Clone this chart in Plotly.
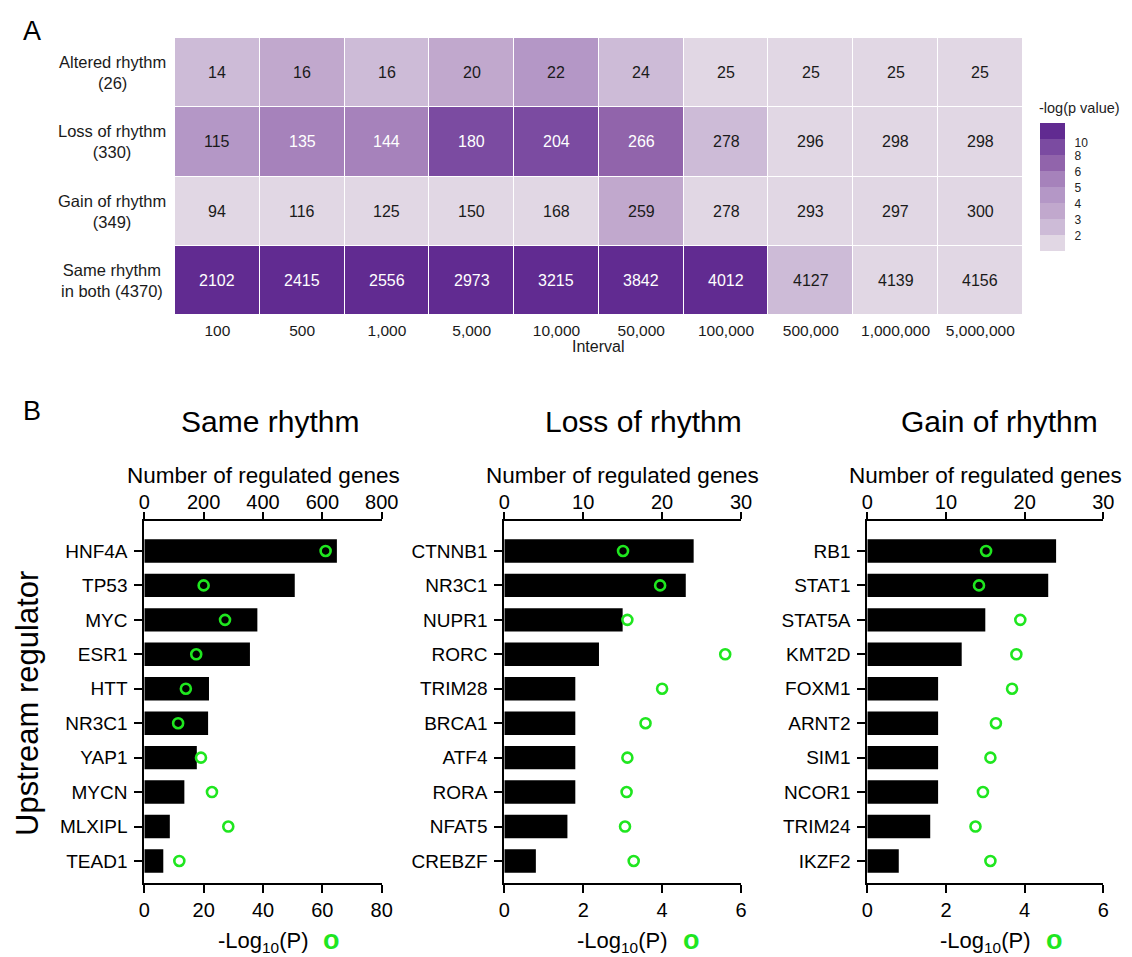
import numpy as np
import plotly.graph_objects as go

W, H = 1132, 957

# ---------------- Panel A data ----------------
intervals = ["100", "500", "1,000", "5,000", "10,000", "50,000", "100,000",
             "500,000", "1,000,000", "5,000,000"]
row_keys = ["Altered", "Loss", "Gain", "Same"]
row_labels = ["Altered rhythm<br>(26)", "Loss of rhythm<br>(330)",
              "Gain of rhythm<br>(349)", "Same rhythm<br>in both (4370)"]
counts_altered = [14, 16, 16, 20, 22, 24, 25, 25, 25, 25]
counts_loss = [115, 135, 144, 180, 204, 266, 278, 296, 298, 298]
counts_gain = [94, 116, 125, 150, 168, 259, 278, 293, 297, 300]
counts_same = [2102, 2415, 2556, 2973, 3215, 3842, 4012, 4127, 4139, 4156]
# estimated -log(p value) per cell (read from colour bins)
neglogp_altered = [2.5, 3.5, 2.5, 3.5, 4.5, 2.5, 1.5, 1.5, 1.5, 1.5]
neglogp_loss = [4.5, 5.5, 5.5, 9.0, 9.0, 7.0, 2.5, 1.5, 1.5, 1.5]
neglogp_gain = [1.5, 1.5, 1.5, 1.5, 1.5, 3.5, 1.5, 1.5, 1.5, 1.5]
neglogp_same = [11.0, 11.0, 11.0, 11.0, 11.0, 11.0, 11.0, 2.5, 1.5, 1.5]
colorbar_levels = [2, 3, 4, 5, 6, 8, 10]

# ---------------- Panel B data ----------------
same_genes = ["HNF4A", "TP53", "MYC", "ESR1", "HTT", "NR3C1", "YAP1", "MYCN", "MLXIPL", "TEAD1"]
same_count = [649, 507, 381, 356, 218, 215, 177, 135, 86, 64]
same_logp = [61.1, 20.0, 27.2, 17.5, 14.0, 11.4, 19.1, 22.8, 28.3, 11.8]

loss_genes = ["CTNNB1", "NR3C1", "NUPR1", "RORC", "TRIM28", "BRCA1", "ATF4", "RORA", "NFAT5", "CREBZF"]
loss_count = [24, 23, 15, 12, 9, 9, 9, 9, 8, 4]
loss_logp = [3.01, 3.95, 3.12, 5.60, 4.00, 3.58, 3.12, 3.10, 3.06, 3.28]

gain_genes = ["RB1", "STAT1", "STAT5A", "KMT2D", "FOXM1", "ARNT2", "SIM1", "NCOR1", "TRIM24", "IKZF2"]
gain_count = [24, 23, 15, 12, 9, 9, 9, 9, 8, 4]
gain_logp = [3.02, 2.84, 3.89, 3.79, 3.68, 3.27, 3.13, 2.94, 2.75, 3.13]

panel_titles = ["Same rhythm", "Loss of rhythm", "Gain of rhythm"]

# ---------------- helpers ----------------
def px(x):
    return x / W

def py(y):
    return 1 - y / H

FONT = "Arial"
GREEN = "#1fe61f"
bin_colors = ["#e1d7e4", "#cdbbd7", "#c1a8cd", "#b497c6", "#a682bb",
              "#9164ab", "#7b4ba1", "#612b91"]
colorscale = []
for i, c in enumerate(bin_colors):
    colorscale.append([i / len(bin_colors), c])
    colorscale.append([(i + 1) / len(bin_colors), c])

counts = [counts_altered, counts_loss, counts_gain, counts_same]
neglogp = np.array([neglogp_altered, neglogp_loss, neglogp_gain, neglogp_same])
bins = np.digitize(neglogp, colorbar_levels)

fig = go.Figure()

fig.add_trace(go.Heatmap(
    z=bins, x=intervals, y=row_keys,
    colorscale=colorscale, zmin=-0.5, zmax=7.5, xgap=1, ygap=1,
    hoverinfo="skip",
    colorbar=dict(
        x=px(1040), xanchor="left", xpad=0,
        y=py(187.5), yanchor="middle", ypad=0,
        len=128, lenmode="pixels", thickness=25, thicknessmode="pixels",
        outlinewidth=0, ticks="",
        tickvals=[0.5, 1.5, 2.5, 3.5, 4.5, 5.5, 6.3],
        ticktext=["  " + str(v) for v in colorbar_levels],
        tickfont=dict(size=12, family=FONT, color="#222"),
    ),
))


def ann(x, y, text, size, color="black", xref="paper", yref="paper", **kw):
    d = dict(x=x, y=y, xref=xref, yref=yref, text=text, showarrow=False,
             xanchor="center", yanchor="middle",
             font=dict(size=size, color=color, family=FONT))
    d.update(kw)
    return d


annotations = []
for r, key in enumerate(row_keys):
    for c, lab in enumerate(intervals):
        col = "white" if bins[r, c] >= 4 else "#1a1a1a"
        # category index positions on the heatmap's category axes
        annotations.append(ann(c, r, str(counts[r][c]), 16, col, xref="x", yref="y"))
    annotations.append(ann(px(112), r, row_labels[r], 16.5, "#1a1a1a", yref="y", align="center"))

annotations += [
    ann(px(598), py(347), "Interval", 16, "#1a1a1a"),
    ann(px(1037), py(108), "-log(p value)", 14.5, "#222", xanchor="left"),
    ann(px(32), py(31), "A", 27),
    ann(px(32), py(411), "B", 27),
    ann(px(27), py(704), "Upstream regulator", 31, textangle=-90),
]

layout = dict(
    width=W, height=H,
    margin=dict(l=0, r=0, t=0, b=0, autoexpand=False),
    paper_bgcolor="white", plot_bgcolor="white",
    showlegend=False,
    font=dict(family=FONT, color="black"),
    xaxis=dict(domain=[px(175), px(1022.7)], anchor="y", type="category",
               categoryorder="array", categoryarray=intervals,
               range=[-0.5, len(intervals) - 0.5], ticks="",
               showline=False, showgrid=False, zeroline=False,
               tickfont=dict(size=15.5, color="#1a1a1a"), ticklabelstandoff=4),
    yaxis=dict(domain=[py(315), py(38)], anchor="x", type="category",
               categoryorder="array", categoryarray=row_keys,
               range=[len(row_keys) - 0.5, -0.5],
               showticklabels=False, ticks="", showgrid=False, zeroline=False),
)

panels = [
    (same_genes, same_count, same_logp, [0, 800], 200, [0, 80], 20, 144.3, 381.7, 270),
    (loss_genes, loss_count, loss_logp, [0, 30], 10, [0, 6], 2, 504.3, 741.0, 643),
    (gain_genes, gain_count, gain_logp, [0, 30], 10, [0, 6], 2, 867.3, 1103.3, 1000),
]

axis_style = dict(showline=True, linewidth=2, linecolor="black", ticks="outside",
                  tickwidth=2, tickcolor="black", showgrid=False,
                  zeroline=False, tickfont=dict(size=20, color="black", family=FONT))

for i, (genes, cnt, lp, crange, cdt, lrange, ldt, x0, x1, tx) in enumerate(panels):
    xb = 2 * (i + 1)       # bars axis (top)
    xd = xb + 1            # dots axis (bottom)
    yy = i + 2
    dom = [px(x0), px(x1)]
    layout[f"xaxis{xb}"] = dict(domain=dom, anchor=f"y{yy}", side="top", range=crange,
                                dtick=cdt, ticklen=7, ticklabelstandoff=-5, **axis_style)
    layout[f"xaxis{xd}"] = dict(domain=dom, anchor=f"y{yy}", side="bottom", range=lrange,
                                dtick=ldt, ticklen=8, overlaying=f"x{xb}", **axis_style)
    ys = dict(axis_style)
    ys["tickfont"] = dict(size=19, color="black", family=FONT)
    layout[f"yaxis{yy}"] = dict(domain=[py(883), py(521)], anchor=f"x{xb}", type="category",
                                categoryorder="array", categoryarray=genes, ticklen=8,
                                range=[9.64, -0.87], ticklabelstandoff=3, **ys)
    fig.add_trace(go.Bar(x=cnt, y=genes, orientation="h", xaxis=f"x{xb}", yaxis=f"y{yy}",
                         marker=dict(color="black", line=dict(width=0)), width=0.68,
                         hoverinfo="skip"))
    fig.add_trace(go.Scatter(x=lp, y=genes, mode="markers", xaxis=f"x{xd}", yaxis=f"y{yy}",
                             marker=dict(symbol="circle-open", size=10, color=GREEN,
                                         line=dict(width=2.6, color=GREEN)),
                             cliponaxis=False, hoverinfo="skip"))
    cx = (x0 + x1) / 2
    annotations += [
        ann(px(tx), py(421), panel_titles[i], 30),
        ann(px(cx), py(475), "Number of regulated genes", 22.5),
        ann(px(cx), py(942), "-Log<sub>10</sub>(P)", 22),
        ann(px(cx + 69), py(940), "<b>o</b>", 27, GREEN),
    ]

layout["annotations"] = annotations
fig.update_layout(**layout)
fig.write_html("out.html", config={"displayModeBar": False},
               post_script="document.body.style.margin='0';document.body.style.padding='0';")
